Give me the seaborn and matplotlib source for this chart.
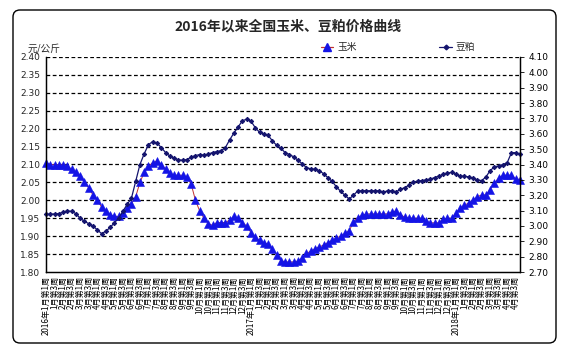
import numpy as np
import pandas as pd
import seaborn as sns
import matplotlib
matplotlib.use("Agg")
import matplotlib.pyplot as plt
from matplotlib.lines import Line2D
from matplotlib.patches import FancyBboxPatch

# ---------------- data ----------------
corn = [2.105, 2.100, 2.100, 2.100, 2.100, 2.095, 2.087, 2.078, 2.068, 2.050,
        2.035, 2.015, 2.000, 1.982, 1.970, 1.960, 1.955, 1.955, 1.965, 1.978,
        1.990, 2.010, 2.050, 2.078, 2.095, 2.105, 2.110, 2.100, 2.088, 2.075,
        2.070, 2.070, 2.070, 2.065, 2.045, 2.000, 1.970, 1.950, 1.935, 1.930,
        1.938, 1.938, 1.938, 1.945, 1.955, 1.950, 1.938, 1.928, 1.910, 1.897,
        1.888, 1.882, 1.878, 1.865, 1.848, 1.832, 1.828, 1.828, 1.828, 1.830,
        1.840, 1.852, 1.858, 1.865, 1.870, 1.875, 1.882, 1.888, 1.895, 1.900,
        1.908, 1.915, 1.940, 1.952, 1.958, 1.962, 1.962, 1.962, 1.962, 1.962,
        1.962, 1.968, 1.970, 1.960, 1.953, 1.950, 1.950, 1.950, 1.950, 1.942,
        1.937, 1.937, 1.937, 1.948, 1.950, 1.950, 1.965, 1.978, 1.987, 1.992,
        2.000, 2.010, 2.015, 2.015, 2.030, 2.048, 2.062, 2.070, 2.070, 2.070,
        2.060, 2.058]

soymeal = [3.076, 3.076, 3.078, 3.080, 3.090, 3.098, 3.095, 3.080, 3.050, 3.030,
           3.015, 3.000, 2.975, 2.950, 2.965, 2.990, 3.020, 3.050, 3.095, 3.140,
           3.180, 3.290, 3.400, 3.470, 3.530, 3.549, 3.540, 3.510, 3.478, 3.455,
           3.442, 3.430, 3.428, 3.432, 3.448, 3.458, 3.465, 3.460, 3.468, 3.478,
           3.484, 3.490, 3.510, 3.560, 3.605, 3.645, 3.685, 3.695, 3.682, 3.640,
           3.610, 3.600, 3.590, 3.555, 3.525, 3.505, 3.478, 3.465, 3.450, 3.428,
           3.405, 3.380, 3.372, 3.368, 3.360, 3.340, 3.315, 3.290, 3.255, 3.225,
           3.200, 3.175, 3.200, 3.228, 3.229, 3.229, 3.229, 3.229, 3.229, 3.220,
           3.229, 3.229, 3.222, 3.238, 3.250, 3.265, 3.285, 3.292, 3.295, 3.300,
           3.305, 3.315, 3.325, 3.335, 3.345, 3.348, 3.335, 3.325, 3.322, 3.320,
           3.310, 3.300, 3.295, 3.318, 3.360, 3.385, 3.390, 3.400, 3.412, 3.477,
           3.477, 3.468]

years = [2016, 2017, 2018]
months_per_year = [12, 12, 4]
week_labels_in_month = ["第1周", "第3周"]

tick_labels = []
for yr, nm in zip(years, months_per_year):
    for m in range(1, nm + 1):
        for j, wk in enumerate(week_labels_in_month):
            if m == 1 and j == 0:
                tick_labels.append(f"{yr}年{m}月{wk}")
            else:
                tick_labels.append(f"{m}月{wk}")

weeks = np.arange(len(corn))
df = pd.DataFrame({"week": weeks, "corn": corn, "soymeal": soymeal})

# ---------------- style ----------------
sns.set_theme(style="white")
plt.rcParams["font.family"] = ["Noto Sans CJK SC", "DejaVu Sans"]

W, H = 577, 354
fig = plt.figure(figsize=(W / 100, H / 100), dpi=100)
ax = fig.add_axes([46 / W, 1 - 272 / H, (520 - 46) / W, (272 - 57) / H])
ax2 = ax.twinx()

corn_line = "#c03030"
corn_mark = "#1414e6"
soy_col = "#14146e"

sns.lineplot(data=df, x="week", y="corn", ax=ax, color=corn_line, lw=0.7,
             marker="^", markersize=6.2, markerfacecolor=corn_mark,
             markeredgecolor=corn_mark, markeredgewidth=0.4, clip_on=False)
sns.lineplot(data=df, x="week", y="soymeal", ax=ax2, color=soy_col, lw=0.9,
             marker="D", markersize=2.2, markerfacecolor=soy_col,
             markeredgecolor=soy_col, clip_on=False)

ax.set_xlim(0, len(corn) - 1)
ax.set_ylim(1.80, 2.40)
ax2.set_ylim(2.70, 4.10)

ax.set_yticks(np.arange(1.80, 2.401, 0.05))
ax.set_yticklabels([f"{v:.2f}" for v in np.arange(1.80, 2.401, 0.05)], fontsize=6.5,
                   family="DejaVu Sans")
ax2.set_yticks(np.arange(2.70, 4.101, 0.10))
ax2.set_yticklabels([f"{v:.2f}" for v in np.arange(2.70, 4.101, 0.10)], fontsize=6.5,
                    family="DejaVu Sans")

ax.set_xticks(np.arange(0, len(corn), 2))
ax.set_xticklabels(tick_labels, rotation=90, fontsize=5.8, va="top", ha="center")
ax.set_xticks(weeks, minor=True)
ax.tick_params(axis="x", which="both", direction="in", length=2.5, width=0.6,
               pad=3, colors="black")
ax.tick_params(axis="y", length=0, pad=4)
ax2.tick_params(axis="y", direction="out", length=3, width=0.6, pad=3, colors="black")

ax.set_xlabel("")
ax.set_ylabel("")
ax2.set_ylabel("")

ax.grid(False)
ax2.grid(False)
for v in np.arange(1.85, 2.401, 0.05):
    ax.axhline(v, color="black", lw=0.9, ls=(0, (3, 2)), zorder=0)

for a in (ax, ax2):
    a.spines["top"].set_visible(False)
    for s in ("left", "right", "bottom"):
        a.spines[s].set_color("black")
        a.spines[s].set_linewidth(0.9)
ax.patch.set_visible(False)

# title and unit
fig.text(288 / W, 1 - 27 / H, "2016年以来全国玉米、豆粕价格曲线", ha="center",
         va="center", fontsize=10, fontweight="bold")
fig.text(28 / W, 1 - 49 / H, "元/公斤", ha="left", va="center", fontsize=7,
         style="italic")

# legend
handles = [
    Line2D([], [], color=corn_line, lw=0.9, marker="^", markersize=6,
           markerfacecolor=corn_mark, markeredgecolor=corn_mark),
    Line2D([], [], color=soy_col, lw=0.9, marker="D", markersize=2.4,
           markerfacecolor=soy_col, markeredgecolor=soy_col),
]
fig.legend(handles, ["玉米", "豆粕"], loc="center", ncol=2,
           bbox_to_anchor=(398 / W, 1 - 47 / H), frameon=False, fontsize=7,
           handlelength=1.3, handletextpad=0.4, columnspacing=8.5)

# outer rounded border
border = FancyBboxPatch((13, H - 343), 543, 333,
                        boxstyle="round,pad=0,rounding_size=7",
                        transform=None, fill=False, edgecolor="black", lw=1.0)
fig.patches.append(border)

fig.savefig("out.png", dpi=100)
